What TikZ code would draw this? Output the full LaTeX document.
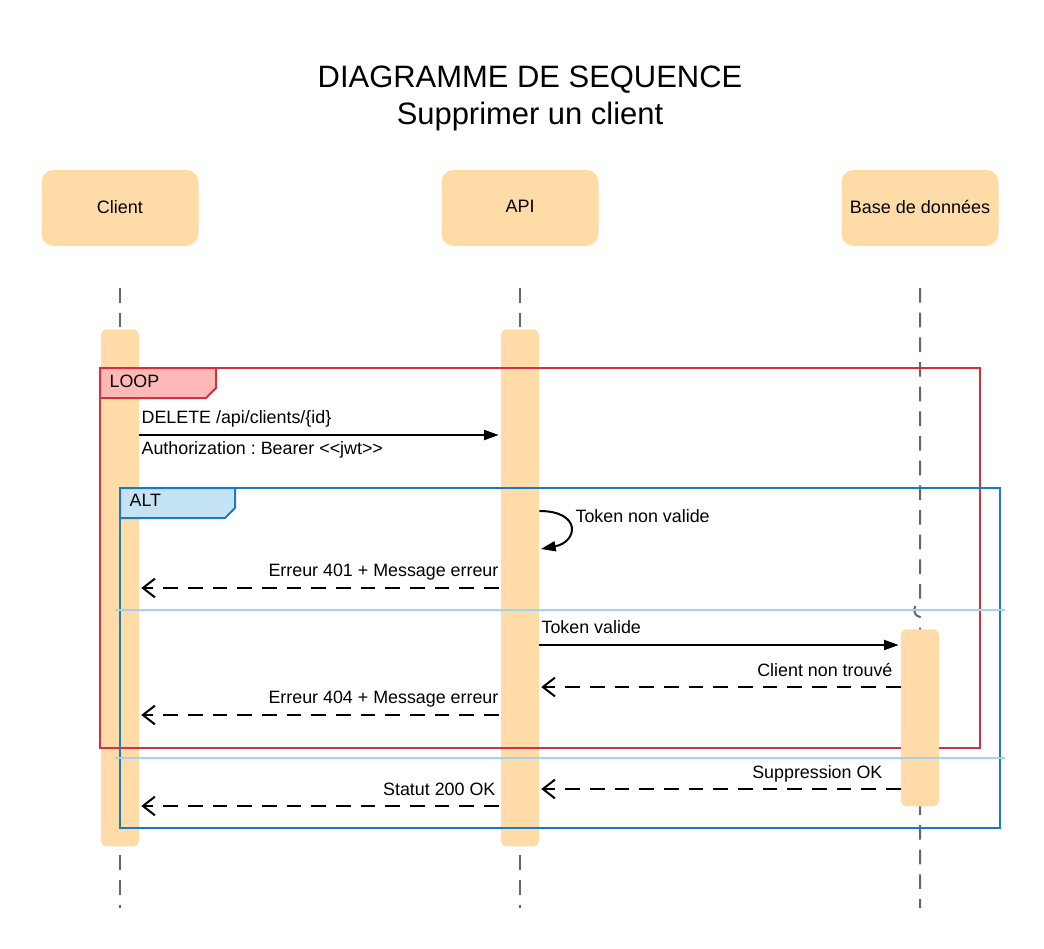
\documentclass[tikz,border=0pt]{standalone}
\usepackage{fontspec}
\setmainfont{Liberation Sans}[Ligatures=NoCommon]
\frenchspacing
\usetikzlibrary{arrows.meta}

\definecolor{peach}{HTML}{FFDBA8}
\definecolor{looped}{HTML}{D2313F}
\definecolor{looptab}{HTML}{FFB8B8}
\definecolor{altblue}{HTML}{1A7CBF}
\definecolor{alttab}{HTML}{C4E4F6}
\definecolor{sepblue}{HTML}{9DD3F3}
\definecolor{lifegray}{HTML}{666666}

\tikzset{
  actor/.style={fill=peach, rounded corners=9pt, minimum width=117.75pt, minimum height=57pt, font=\fontsize{13.5}{15}\selectfont},
  actbar/.style={fill=peach, rounded corners=4pt, minimum width=28.5pt, anchor=north, inner sep=0pt},
  life/.style={draw=lifegray, line width=1.5pt, dash pattern=on 11pt off 7.5pt},
  call/.style={-{Triangle[length=11pt,width=7.5pt]}, line width=1.5pt},
  reply/.style={-{Straight Barb[length=9pt,width=14pt]}, line width=1.5pt, dash pattern=on 11pt off 7.5pt},
  msg/.style={font=\fontsize{13.4}{15}\selectfont, inner sep=1pt},
  sep/.style={draw=sepblue, line width=1.5pt}
}

\begin{document}
\frenchspacing
\begin{tikzpicture}[x=0.75pt, y=-0.75pt]
\useasboundingbox (0,0) rectangle (1044,948);

% Title
\node[font=\fontsize{23.2}{27}\selectfont] (title1) at (530,80) {DIAGRAMME DE SEQUENCE};
\node[font=\fontsize{23.2}{27}\selectfont] (title2) at (530,117) {Supprimer un client};

% Actors
\node[actor] (client) at (120,208) {\raisebox{2pt}{Client}};
\node[actor] (api) at (520,208) {\raisebox{2pt}{API}};
\node[actor] (bdd) at (920,208) {\raisebox{2pt}{Base de données}};

% Lifelines
\foreach \n/\x in {client/120, api/520}
{
    \coordinate (\n-top) at (\x,288);
    \coordinate (\n-bot) at (\x,908);
    \draw[life] (\n-top) -- (\n-bot);
}
\coordinate (bdd-top) at (920,288);
\coordinate (bdd-bot) at (920,908);
\draw[life] (bdd-top) -- (920,603) .. controls (912,605) and (912,615) .. (920,617) -- (bdd-bot);

% Activation bars
\node[actbar, minimum height=387.75pt] (client-act) at (120,329) {};
\node[actbar, minimum height=387.75pt] (api-act) at (520,329) {};

% LOOP frame
\draw[looped, line width=1.5pt] (100,368) rectangle (980,748);
\draw[looped, fill=looptab, line width=1.5pt] (100,368) -- (216,368) -- (216,388) -- (206,398) -- (100,398) -- cycle;
\node[msg, anchor=base west] (looplabel) at (108,387) {LOOP};

% ALT frame
\draw[altblue, line width=1.5pt] (120,488) rectangle (1000,828);
\draw[altblue, fill=alttab, line width=1.5pt] (120,488) -- (235,488) -- (235,508) -- (225,518) -- (120,518) -- cycle;
\node[msg, anchor=base west] (altlabel) at (128,506) {ALT};

% Database bar (over the frames)
\node[actbar, minimum height=132.75pt] (bdd-act) at (920,629) {};

% ALT separators
\draw[sep] (115,610) -- (1005,610);
\draw[sep] (115,758) -- (1005,758);

% Messages
\draw[call] (client-act.east |- 0,435) -- ([xshift=-1.5pt]api-act.west |- 0,435);
\node[msg, anchor=base west] (m1) at (140,423) {DELETE /api/clients/\{id\}};
\node[msg, anchor=base west] (m1b) at (140,454) {Authorization : Bearer {<}{<}jwt{>}{>}};

\draw[call] (api-act.east |- 0,511) .. controls (582,511) and (578,542) .. (541,549);
\node[msg, anchor=base west] (m2) at (574,522) {Token non valide};

\draw[reply] ([xshift=-1.5pt]api-act.west |- 0,588) -- ([xshift=1.5pt]client-act.east |- 0,588);
\node[msg, anchor=base east] (m3) at (500,576) {Erreur 401 + Message erreur};

\draw[call] (api-act.east |- 0,645) -- ([xshift=-1.5pt]bdd-act.west |- 0,645);
\node[msg, anchor=base west] (m4) at (540,633) {Token valide};

\draw[reply] (bdd-act.west |- 0,687) -- ([xshift=1.5pt]api-act.east |- 0,687);
\node[msg, anchor=base east] (m5) at (894,676) {Client non trouvé};

\draw[reply] ([xshift=-1.5pt]api-act.west |- 0,715) -- ([xshift=1.5pt]client-act.east |- 0,715);
\node[msg, anchor=base east] (m6) at (500,703) {Erreur 404 + Message erreur};

\draw[reply] (bdd-act.west |- 0,789) -- ([xshift=1.5pt]api-act.east |- 0,789);
\node[msg, anchor=base east] (m7) at (884,778) {Suppression OK};

\draw[reply] ([xshift=-1.5pt]api-act.west |- 0,806) -- ([xshift=1.5pt]client-act.east |- 0,806);
\node[msg, anchor=base east] (m8) at (497,795) {Statut 200 OK};
\end{tikzpicture}
\end{document}
